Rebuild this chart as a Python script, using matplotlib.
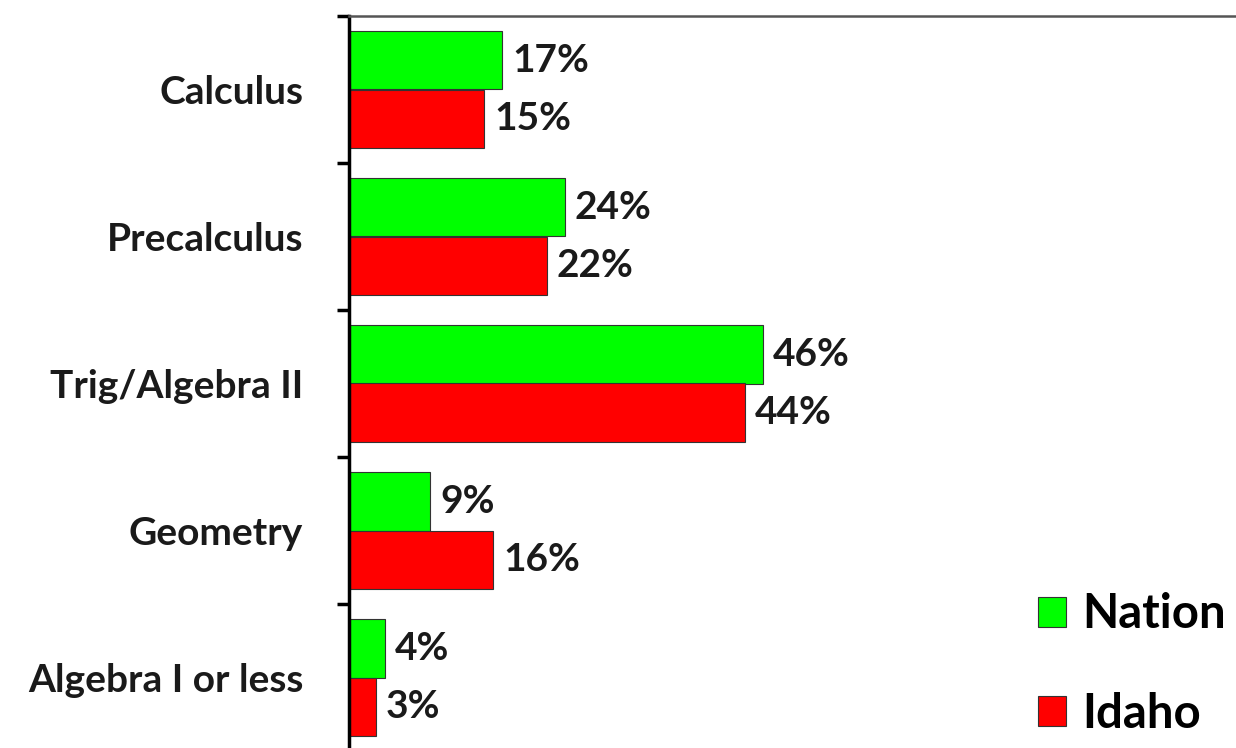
import matplotlib.pyplot as plt
import numpy as np

plt.rcParams['font.family'] = ['Lato', 'DejaVu Sans']

categories = ['Calculus', 'Precalculus', 'Trig/Algebra II', 'Geometry', 'Algebra I or less']
nation = [17, 24, 46, 9, 4]
idaho = [15, 22, 44, 16, 3]


def main():
    fig = plt.figure(figsize=(12.36, 7.48), dpi=100)
    W, H = 1236, 748
    ax = fig.add_axes([349 / W, (H - 751) / H, (W - 349) / W, 735 / H])

    n = len(categories)
    y = np.arange(n)
    h = 0.395
    ax.barh(y - h / 2, nation, height=h, color='#00ff00', edgecolor='#333333',
            linewidth=0.8, label='Nation')
    ax.barh(y + h / 2, idaho, height=h, color='#ff0000', edgecolor='#333333',
            linewidth=0.8, label='Idaho')

    for i in range(n):
        ax.annotate(f'{nation[i]}%', (nation[i], y[i] - h / 2), xytext=(10, 0),
                    textcoords='offset pixels', va='center', ha='left',
                    fontsize=28, fontweight='bold', color='#1a1a1a')
        ax.annotate(f'{idaho[i]}%', (idaho[i], y[i] + h / 2), xytext=(10, 0),
                    textcoords='offset pixels', va='center', ha='left',
                    fontsize=28, fontweight='bold', color='#1a1a1a')

    ax.set_xlim(0, 98.6)
    ax.set_ylim(n - 0.5, -0.5)

    ax.set_xticks([])
    ax.set_yticks(np.arange(n + 1) - 0.5)
    ax.set_yticklabels([])
    ax.set_yticks(y, minor=True)
    ax.set_yticklabels(categories, minor=True, fontsize=28, fontweight='bold',
                       color='#1a1a1a')
    ax.tick_params(axis='y', which='major', length=9, width=2.5, direction='out')
    ax.tick_params(axis='y', which='minor', length=0, pad=33)

    ax.spines['left'].set_linewidth(2.5)
    ax.spines['left'].set_color('black')
    ax.spines['top'].set_color('#555555')
    ax.spines['top'].set_linewidth(1.8)
    ax.spines['right'].set_visible(False)
    ax.spines['bottom'].set_visible(False)

    ax.legend(loc='lower right', bbox_to_anchor=(1.021, -0.018), frameon=False,
              prop={'weight': 'bold', 'size': 34},
              handlelength=0.6, handleheight=0.6, handletextpad=0.35,
              labelspacing=1.18, borderaxespad=0.2)

    fig.savefig('out.png', dpi=100)
    return 0


if __name__ == '__main__':
    main()
